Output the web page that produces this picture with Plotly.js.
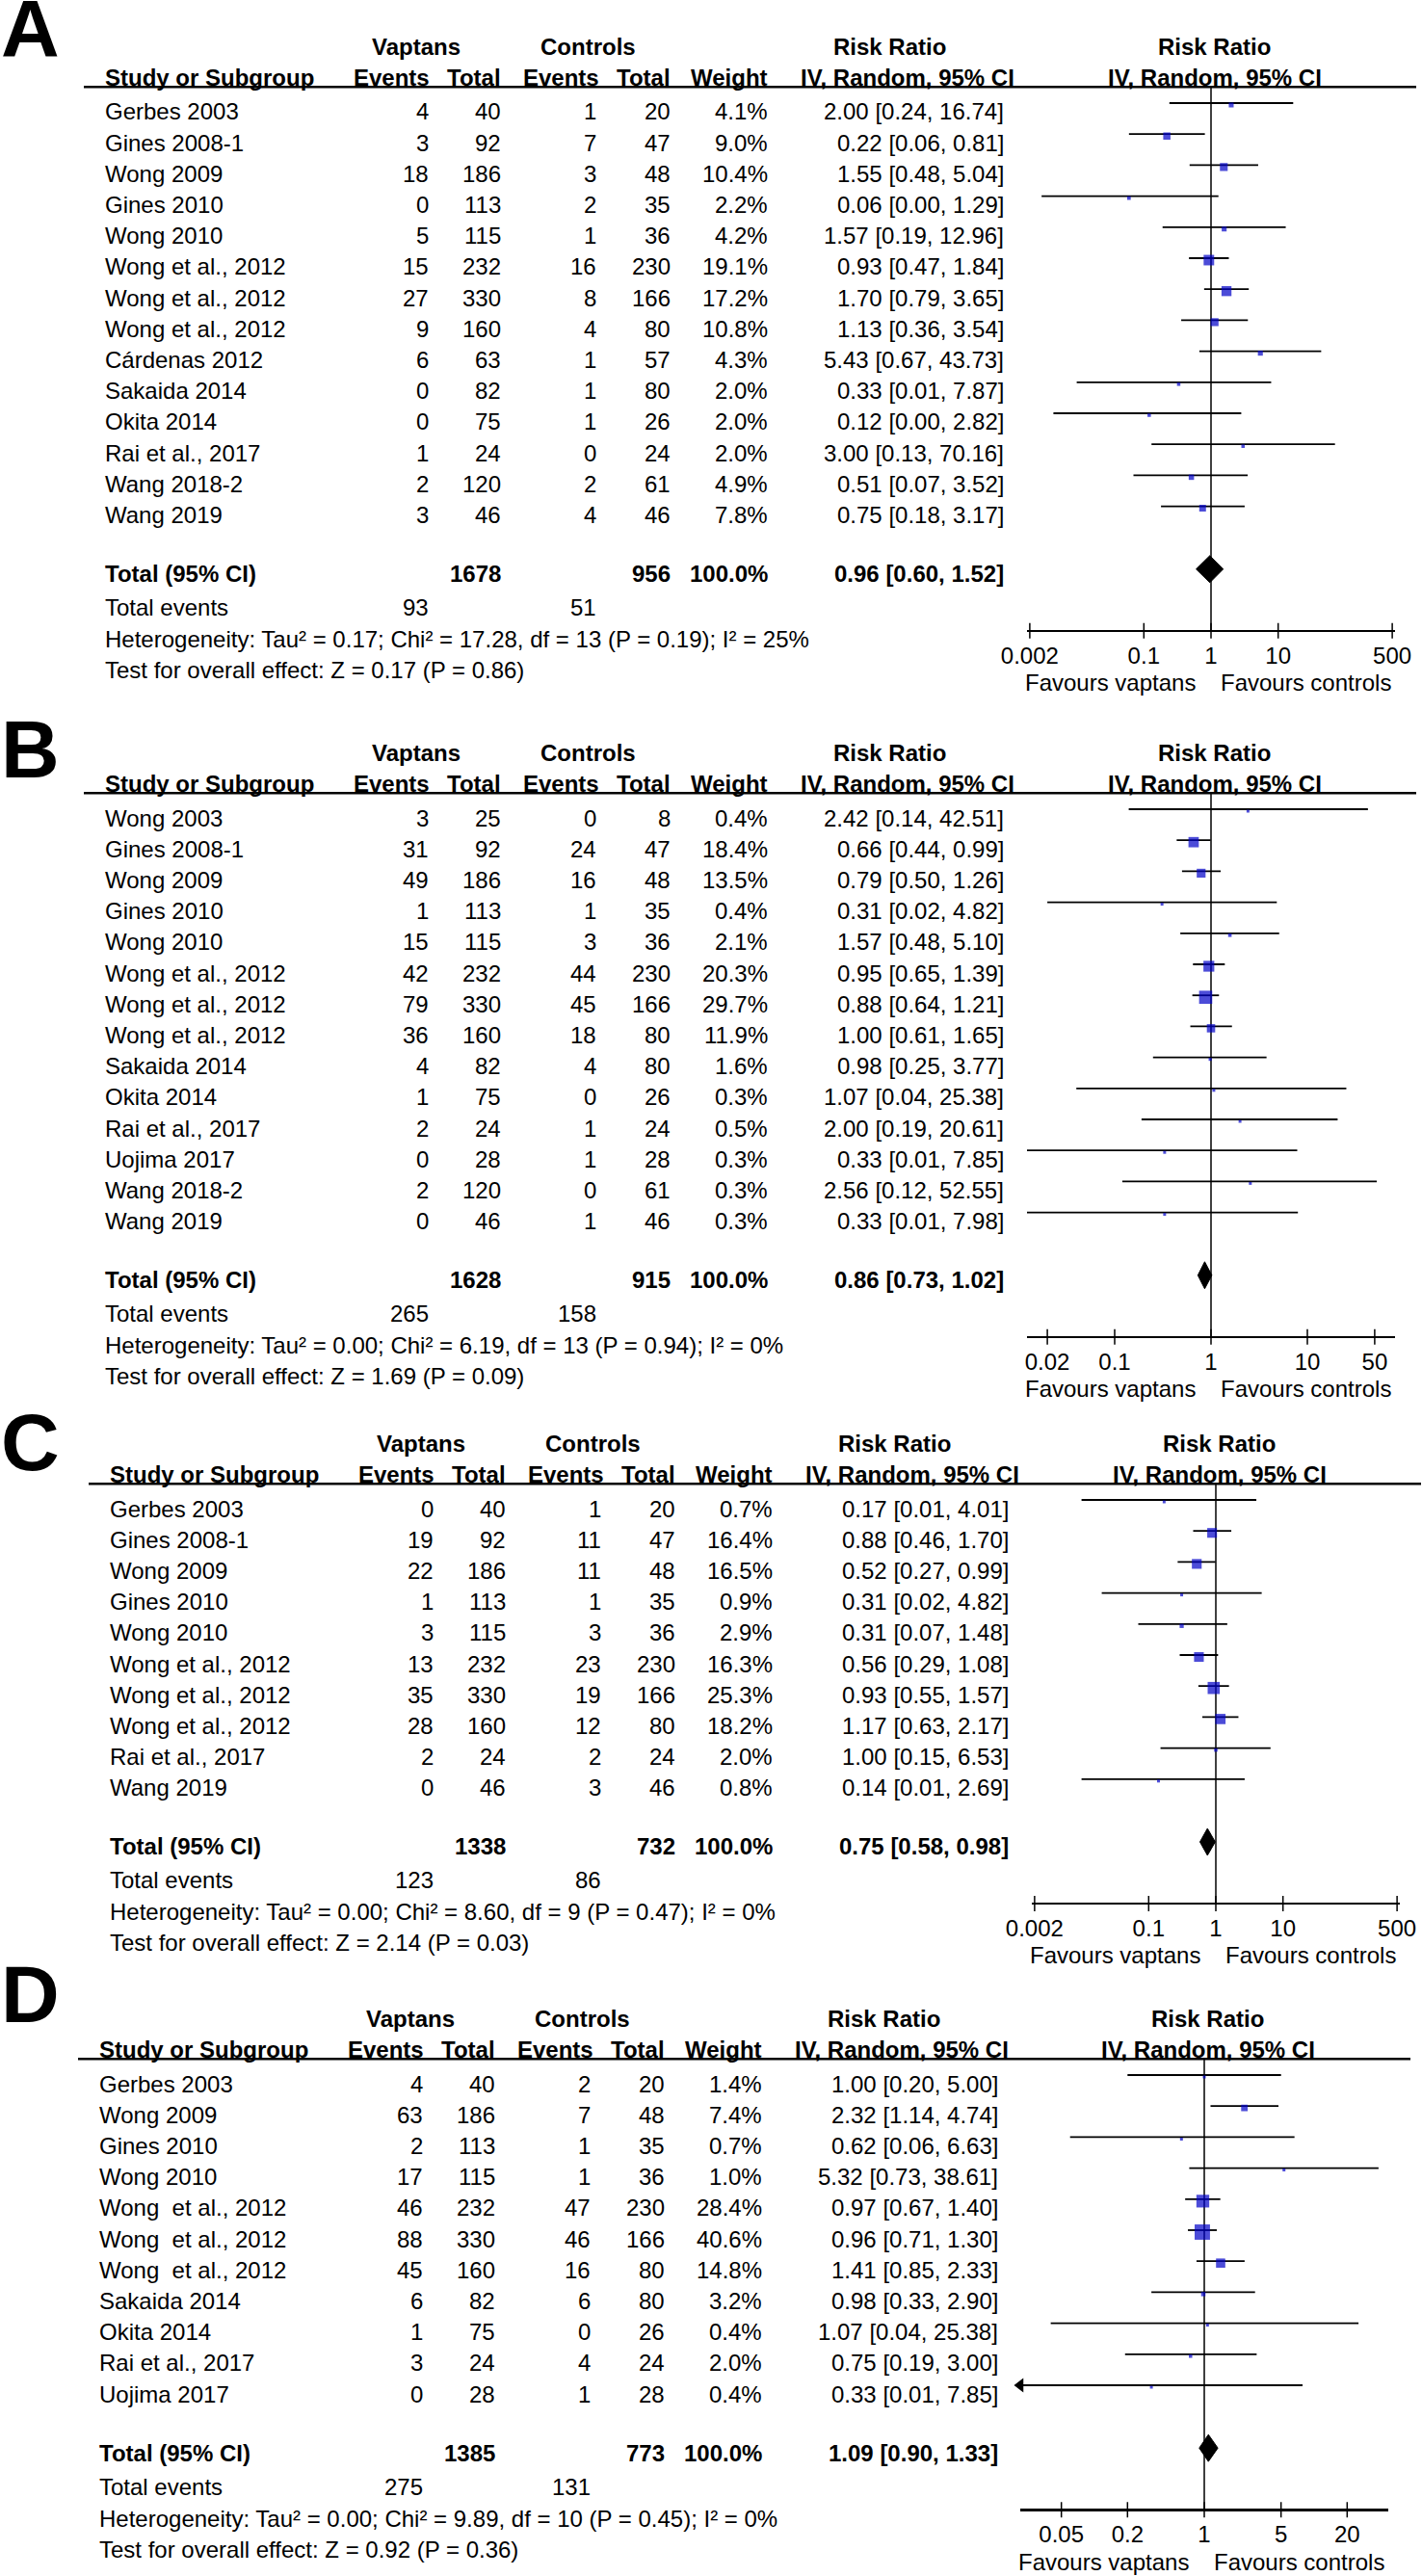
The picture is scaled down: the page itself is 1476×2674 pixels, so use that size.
<!DOCTYPE html>
<html><head><meta charset="utf-8">
<script src="https://cdn.plot.ly/plotly-3.0.1.min.js"></script>
<style>html,body{margin:0;padding:0;background:#fff}#chart{width:1476px;height:2674px}</style>
</head><body><div id="chart"></div>
<script>
// ---------------- DATA ----------------
// Panel A
const studiesA = ['Gerbes 2003','Gines 2008-1','Wong 2009','Gines 2010','Wong 2010','Wong et al., 2012','Wong et al., 2012','Wong et al., 2012','Cárdenas 2012','Sakaida 2014','Okita 2014','Rai et al., 2017','Wang 2018-2','Wang 2019'];
const vapEventsA = [4,3,18,0,5,15,27,9,6,0,0,1,2,3];
const vapTotalA  = [40,92,186,113,115,232,330,160,63,82,75,24,120,46];
const ctlEventsA = [1,7,3,2,1,16,8,4,1,1,1,0,2,4];
const ctlTotalA  = [20,47,48,35,36,230,166,80,57,80,26,24,61,46];
const weightA    = [4.1,9.0,10.4,2.2,4.2,19.1,17.2,10.8,4.3,2.0,2.0,2.0,4.9,7.8];
const rrA        = [2.00,0.22,1.55,0.06,1.57,0.93,1.70,1.13,5.43,0.33,0.12,3.00,0.51,0.75];
const lowA       = [0.24,0.06,0.48,0.003,0.19,0.47,0.79,0.36,0.67,0.01,0.0045,0.13,0.07,0.18];
const highA      = [16.74,0.81,5.04,1.29,12.96,1.84,3.65,3.54,43.73,7.87,2.82,70.16,3.52,3.17];
const overallA   = [0.96,0.60,1.52];
const sumTotalsA = [1678,956];
const sumEventsA = [93,51];
const hetA  = 'Heterogeneity: Tau² = 0.17; Chi² = 17.28, df = 13 (P = 0.19); I² = 25%';
const testA = 'Test for overall effect: Z = 0.17 (P = 0.86)';
const ticksA = [0.002,0.1,1,10,500];
const tickLabelsA = ['0.002','0.1','1','10','500'];

// Panel B
const studiesB = ['Wong 2003','Gines 2008-1','Wong 2009','Gines 2010','Wong 2010','Wong et al., 2012','Wong et al., 2012','Wong et al., 2012','Sakaida 2014','Okita 2014','Rai et al., 2017','Uojima 2017','Wang 2018-2','Wang 2019'];
const vapEventsB = [3,31,49,1,15,42,79,36,4,1,2,0,2,0];
const vapTotalB  = [25,92,186,113,115,232,330,160,82,75,24,28,120,46];
const ctlEventsB = [0,24,16,1,3,44,45,18,4,0,1,1,0,1];
const ctlTotalB  = [8,47,48,35,36,230,166,80,80,26,24,28,61,46];
const weightB    = [0.4,18.4,13.5,0.4,2.1,20.3,29.7,11.9,1.6,0.3,0.5,0.3,0.3,0.3];
const rrB        = [2.42,0.66,0.79,0.31,1.57,0.95,0.88,1.00,0.98,1.07,2.00,0.33,2.56,0.33];
const lowB       = [0.14,0.44,0.50,0.02,0.48,0.65,0.64,0.61,0.25,0.04,0.19,0.01,0.12,0.01];
const highB      = [42.51,0.99,1.26,4.82,5.10,1.39,1.21,1.65,3.77,25.38,20.61,7.85,52.55,7.98];
const overallB   = [0.86,0.73,1.02];
const sumTotalsB = [1628,915];
const sumEventsB = [265,158];
const hetB  = 'Heterogeneity: Tau² = 0.00; Chi² = 6.19, df = 13 (P = 0.94); I² = 0%';
const testB = 'Test for overall effect: Z = 1.69 (P = 0.09)';
const ticksB = [0.02,0.1,1,10,50];
const tickLabelsB = ['0.02','0.1','1','10','50'];

// Panel C
const studiesC = ['Gerbes 2003','Gines 2008-1','Wong 2009','Gines 2010','Wong 2010','Wong et al., 2012','Wong et al., 2012','Wong et al., 2012','Rai et al., 2017','Wang 2019'];
const vapEventsC = [0,19,22,1,3,13,35,28,2,0];
const vapTotalC  = [40,92,186,113,115,232,330,160,24,46];
const ctlEventsC = [1,11,11,1,3,23,19,12,2,3];
const ctlTotalC  = [20,47,48,35,36,230,166,80,24,46];
const weightC    = [0.7,16.4,16.5,0.9,2.9,16.3,25.3,18.2,2.0,0.8];
const rrC        = [0.17,0.88,0.52,0.31,0.31,0.56,0.93,1.17,1.00,0.14];
const lowC       = [0.01,0.46,0.27,0.02,0.07,0.29,0.55,0.63,0.15,0.01];
const highC      = [4.01,1.70,0.99,4.82,1.48,1.08,1.57,2.17,6.53,2.69];
const overallC   = [0.75,0.58,0.98];
const sumTotalsC = [1338,732];
const sumEventsC = [123,86];
const hetC  = 'Heterogeneity: Tau² = 0.00; Chi² = 8.60, df = 9 (P = 0.47); I² = 0%';
const testC = 'Test for overall effect: Z = 2.14 (P = 0.03)';
const ticksC = [0.002,0.1,1,10,500];
const tickLabelsC = ['0.002','0.1','1','10','500'];

// Panel D
const studiesD = ['Gerbes 2003','Wong 2009','Gines 2010','Wong 2010','Wong\u00a0 et al., 2012','Wong\u00a0 et al., 2012','Wong\u00a0 et al., 2012','Sakaida 2014','Okita 2014','Rai et al., 2017','Uojima 2017'];
const vapEventsD = [4,63,2,17,46,88,45,6,1,3,0];
const vapTotalD  = [40,186,113,115,232,330,160,82,75,24,28];
const ctlEventsD = [2,7,1,1,47,46,16,6,0,4,1];
const ctlTotalD  = [20,48,35,36,230,166,80,80,26,24,28];
const weightD    = [1.4,7.4,0.7,1.0,28.4,40.6,14.8,3.2,0.4,2.0,0.4];
const rrD        = [1.00,2.32,0.62,5.32,0.97,0.96,1.41,0.98,1.07,0.75,0.33];
const lowD       = [0.20,1.14,0.06,0.73,0.67,0.71,0.85,0.33,0.04,0.19,0.01];
const highD      = [5.00,4.74,6.63,38.61,1.40,1.30,2.33,2.90,25.38,3.00,7.85];
const overallD   = [1.09,0.90,1.33];
const sumTotalsD = [1385,773];
const sumEventsD = [275,131];
const hetD  = 'Heterogeneity: Tau² = 0.00; Chi² = 9.89, df = 10 (P = 0.45); I² = 0%';
const testD = 'Test for overall effect: Z = 0.92 (P = 0.36)';
const ticksD = [0.05,0.2,1,5,20];
const tickLabelsD = ['0.05','0.2','1','5','20'];

// ---------------- LAYOUT ----------------
const W = 1476, H = 2674, RS = 32.2;
const FONT = 'Liberation Sans, Arial, Helvetica, sans-serif';
const FS = 24;
const BLUE = '#0000C8';

const panels = [
  {letter:'A', names:studiesA, ve:vapEventsA, vt:vapTotalA, ce:ctlEventsA, ct:ctlTotalA, w:weightA, rr:rrA, lo:lowA, hi:highA, ov:overallA, st:sumTotalsA, se:sumEventsA, het:hetA, test:testA, ticks:ticksA, tl:tickLabelsA,
   y0:116, dx:0, center:1257, ppd:69.7, letterY:30, arrows:false},
  {letter:'B', names:studiesB, ve:vapEventsB, vt:vapTotalB, ce:ctlEventsB, ct:ctlTotalB, w:weightB, rr:rrB, lo:lowB, hi:highB, ov:overallB, st:sumTotalsB, se:sumEventsB, het:hetB, test:testB, ticks:ticksB, tl:tickLabelsB,
   y0:849, dx:0, center:1257, ppd:100, letterY:778, arrows:false},
  {letter:'C', names:studiesC, ve:vapEventsC, vt:vapTotalC, ce:ctlEventsC, ct:ctlTotalC, w:weightC, rr:rrC, lo:lowC, hi:highC, ov:overallC, st:sumTotalsC, se:sumEventsC, het:hetC, test:testC, ticks:ticksC, tl:tickLabelsC,
   y0:1566, dx:5, center:1262, ppd:69.7, letterY:1497, arrows:false},
  {letter:'D', names:studiesD, ve:vapEventsD, vt:vapTotalD, ce:ctlEventsD, ct:ctlTotalD, w:weightD, rr:rrD, lo:lowD, hi:highD, ov:overallD, st:sumTotalsD, se:sumEventsD, het:hetD, test:testD, ticks:ticksD, tl:tickLabelsD,
   y0:2163, dx:-6, center:1250, ppd:114, letterY:2070, arrows:true}
];

const traces = [];
const annotations = [];
const shapes = [];
const layout = {
  width: W, height: H,
  margin: {l:0, r:0, t:0, b:0},
  paper_bgcolor: '#ffffff', plot_bgcolor: 'rgba(0,0,0,0)',
  showlegend: false,
  font: {family: FONT, size: FS, color: '#000'},
  hovermode: false
};

function ann(text, px, yref, row, xanchor, opts) {
  const o = opts || {};
  annotations.push({
    text: o.bold ? '<b>' + text + '</b>' : String(text),
    xref: 'paper', yref: yref,
    x: px / W, y: row,
    xanchor: xanchor, yanchor: 'middle',
    showarrow: false, borderpad: 0,
    font: {family: FONT, size: o.size || FS, color: '#000'}
  });
}

const HALF = 191;

panels.forEach((P, k) => {
  const s = k === 0 ? '' : String(k + 1);
  const xa = 'x' + s, ya = 'y' + s;
  const n = P.names.length;
  const T = n + 0.9;                 // total row
  const axisRow = T + 59 / RS;
  const evRow = T + 35 / RS, hetRow = T + 68 / RS, testRow = T + 100 / RS;
  const favRow = T + 113 / RS;
  const rTop = -3;
  const rBot = Math.min(n + 4.75, (H - P.y0) / RS - 0.02);
  const dx = P.dx;

  layout['yaxis' + s] = {
    domain: [1 - (P.y0 + rBot * RS) / H, 1 - (P.y0 + rTop * RS) / H],
    range: [rBot, rTop], visible: false, fixedrange: true, anchor: xa
  };
  const lr = HALF / P.ppd;
  layout['xaxis' + s] = {
    type: 'log',
    domain: [(P.center - HALF) / W, (P.center + HALF) / W],
    range: [-lr, lr],
    anchor: 'free',
    position: 1 - (P.y0 + axisRow * RS) / H,
    showline: true, linewidth: 2.5, linecolor: '#000',
    ticks: '', tickvals: P.ticks, ticktext: P.tl,
    tickfont: {family: FONT, size: FS, color: '#000'},
    ticklabelstandoff: 4,
    showgrid: false, zeroline: false, fixedrange: true
  };

  // CI lines
  const lx = [], ly = [];
  P.names.forEach((_, i) => { lx.push(P.lo[i], P.hi[i], null); ly.push(i - 9 / RS, i - 9 / RS, null); });
  traces.push({type: 'scatter', mode: 'lines', x: lx, y: ly, xaxis: xa, yaxis: ya,
    line: {color: '#000', width: 1.8}, hoverinfo: 'skip'});

  // vertical line of no effect
  traces.push({type: 'scatter', mode: 'lines', x: [1, 1], y: [-0.8, axisRow], xaxis: xa, yaxis: ya,
    line: {color: '#000', width: 1.5}, hoverinfo: 'skip'});

  // weight squares
  traces.push({type: 'scatter', mode: 'markers', x: P.rr, y: P.names.map((_, i) => i - 7 / RS),
    xaxis: xa, yaxis: ya,
    marker: {symbol: 'square', color: BLUE, size: P.w.map(v => Math.max(3, 2.5 * Math.sqrt(v))), line: {width: 0}},
    hoverinfo: 'skip'});

  // arrows for clipped CIs
  if (P.arrows) {
    const ax = [], ay = [];
    P.names.forEach((_, i) => {
      if (Math.log10(P.lo[i]) < -lr) { ax.push(Math.pow(10, -lr)); ay.push(i - 9 / RS); }
    });
    if (ax.length) traces.push({type: 'scatter', mode: 'markers', x: ax, y: ay, xaxis: xa, yaxis: ya,
      cliponaxis: false,
      marker: {symbol: 'triangle-left', color: '#000', size: 13, line: {width: 0}}, hoverinfo: 'skip'});
  }

  // diamond
  const dy = T - 5 / RS, dh = 14 / RS;
  traces.push({type: 'scatter', mode: 'lines', x: [P.ov[1], P.ov[0], P.ov[2], P.ov[0], P.ov[1]],
    y: [dy, dy - dh, dy, dy + dh, dy], xaxis: xa, yaxis: ya, fill: 'toself', fillcolor: '#000',
    line: {color: '#000', width: 1}, hoverinfo: 'skip'});

  // axis tick marks (both sides of axis line)
  const tx = [], ty = [];
  P.ticks.forEach(t => { tx.push(t, t, null); ty.push(axisRow - 8 / RS, axisRow + 8 / RS, null); });
  traces.push({type: 'scatter', mode: 'lines', x: tx, y: ty, xaxis: xa, yaxis: ya,
    line: {color: '#000', width: 1.5}, hoverinfo: 'skip'});

  // header underline
  shapes.push({type: 'line', xref: 'paper', yref: ya, x0: (87 + dx) / W, x1: (1470 + dx) / W,
    y0: -0.8, y1: -0.8, line: {color: '#000', width: 2.5}});

  // panel letter
  annotations.push({text: '<b>' + P.letter + '</b>', xref: 'paper', yref: 'paper',
    x: 0, y: 1 - P.letterY / H, xanchor: 'left', yanchor: 'middle', showarrow: false, borderpad: 0,
    font: {family: FONT, size: 84, color: '#000'}});

  // headers
  ann('Vaptans', 432 + dx, ya, -2.1, 'center', {bold: true});
  ann('Controls', 610 + dx, ya, -2.1, 'center', {bold: true});
  ann('Risk Ratio', 923 + dx, ya, -2.1, 'center', {bold: true});
  ann('Risk Ratio', P.center + 3, ya, -2.1, 'center', {bold: true});
  ann('Study or Subgroup', 108 + dx, ya, -1.1, 'left', {bold: true});
  ann('Events', 447 + dx, ya, -1.1, 'right', {bold: true});
  ann('Total', 521 + dx, ya, -1.1, 'right', {bold: true});
  ann('Events', 623 + dx, ya, -1.1, 'right', {bold: true});
  ann('Total', 697 + dx, ya, -1.1, 'right', {bold: true});
  ann('Weight', 798 + dx, ya, -1.1, 'right', {bold: true});
  ann('IV, Random, 95% CI', 942 + dx, ya, -1.1, 'center', {bold: true});
  ann('IV, Random, 95% CI', P.center + 4, ya, -1.1, 'center', {bold: true});

  // study rows
  P.names.forEach((nm, i) => {
    ann(nm, 108 + dx, ya, i, 'left');
    ann(P.ve[i], 446 + dx, ya, i, 'right');
    ann(P.vt[i], 521 + dx, ya, i, 'right');
    ann(P.ce[i], 620 + dx, ya, i, 'right');
    ann(P.ct[i], 697 + dx, ya, i, 'right');
    ann(P.w[i].toFixed(1) + '%', 798 + dx, ya, i, 'right');
    ann(P.rr[i].toFixed(2) + ' [' + P.lo[i].toFixed(2) + ', ' + P.hi[i].toFixed(2) + ']', 1043 + dx, ya, i, 'right');
  });

  // totals
  ann('Total (95% CI)', 108 + dx, ya, T, 'left', {bold: true});
  ann(P.st[0], 521 + dx, ya, T, 'right', {bold: true});
  ann(P.st[1], 697 + dx, ya, T, 'right', {bold: true});
  ann('100.0%', 798 + dx, ya, T, 'right', {bold: true});
  ann(P.ov[0].toFixed(2) + ' [' + P.ov[1].toFixed(2) + ', ' + P.ov[2].toFixed(2) + ']', 1043 + dx, ya, T, 'right', {bold: true});
  ann('Total events', 108 + dx, ya, evRow, 'left');
  ann(P.se[0], 446 + dx, ya, evRow, 'right');
  ann(P.se[1], 620 + dx, ya, evRow, 'right');
  ann(P.het, 108 + dx, ya, hetRow, 'left');
  ann(P.test, 108 + dx, ya, testRow, 'left');

  // favours
  ann('Favours vaptans', P.center - 15, ya, favRow, 'right');
  ann('Favours controls', P.center + 9, ya, favRow, 'left');
});

layout.annotations = annotations;
layout.shapes = shapes;

Plotly.newPlot('chart', traces, layout, {displayModeBar: false, staticPlot: true});
</script>
</body></html>
